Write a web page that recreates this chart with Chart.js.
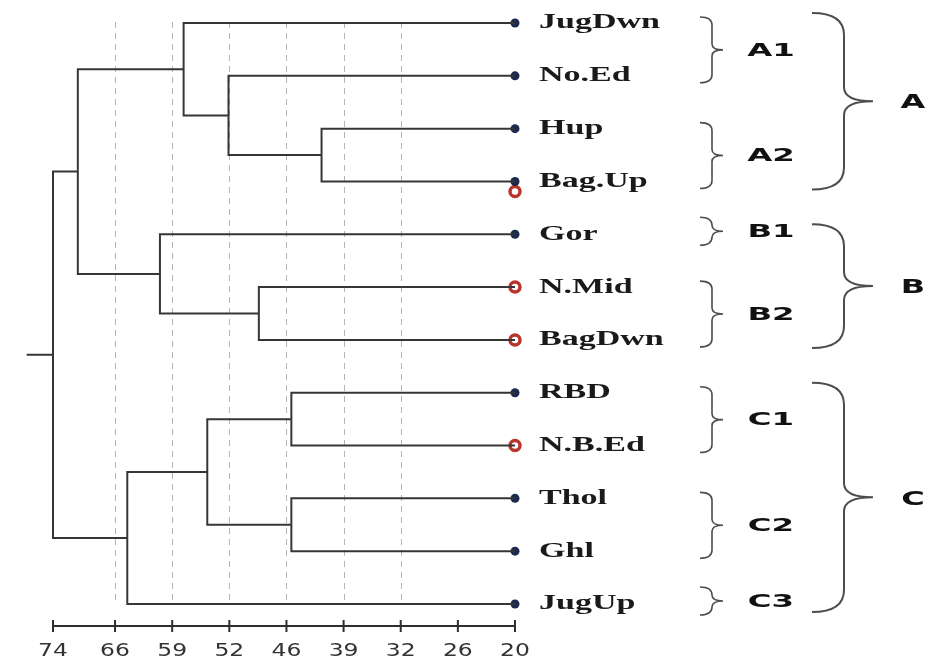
<!DOCTYPE html>
<html>
<head>
<meta charset="utf-8">
<script src="https://cdn.jsdelivr.net/npm/chart.js@4"></script>
<style>
  html, body { margin: 0; padding: 0; background: #fff; }
  canvas { display: block; }
</style>
</head>
<body>
<canvas id="dendro" width="927" height="661"></canvas>
<script>
const tickLabels = [74, 66, 59, 52, 46, 39, 32, 26, 20];
const gridTicks = [66, 59, 52, 46, 39, 32];
const leaves = ['JugDwn', 'No.Ed', 'Hup', 'Bag.Up', 'Gor', 'N.Mid', 'BagDwn', 'RBD', 'N.B.Ed', 'Thol', 'Ghl', 'JugUp'];
const leafLevel = 20;
// [left id, right id, level]; ids 0..11 = leaves, merge k gets id 12 + k
const merges = [
    [2, 3, 41.7],
    [1, 12, 52.1],
    [0, 13, 57.6],
    [5, 6, 48.9],
    [4, 15, 60.5],
    [14, 16, 70.8],
    [7, 8, 45.4],
    [9, 10, 45.4],
    [18, 19, 54.7],
    [20, 11, 64.5],
    [17, 21, 74]
];
const rootStub = 77.4;

const dotLeaves = ['JugDwn', 'No.Ed', 'Hup', 'Bag.Up', 'Gor', 'RBD', 'Thol', 'Ghl', 'JugUp'];
const ringLeaves = ['Bag.Up', 'N.Mid', 'BagDwn', 'N.B.Ed'];
const ringShift = [0.19, 0, 0, 0];

const subGroups = ['A1', 'A2', 'B1', 'B2', 'C1', 'C2', 'C3'];
const subFirst = [0, 2, 4, 5, 7, 9, 11];
const subLast = [1, 3, 4, 6, 8, 10, 11];
const mainGroups = ['A', 'B', 'C'];
const mainFirst = [0, 4, 7];
const mainLast = [3, 6, 11];

// the first interval (74-66) is drawn a bit wider than the others
const X_MIN = -0.086;
const tickIdx = tickLabels.map((_, i) => i === 0 ? X_MIN : i);

// similarity value -> position on the tick axis
function toIdx(v) {
    for (let i = 0; i < tickLabels.length - 1; i++) {
        const a = tickLabels[i], b = tickLabels[i + 1];
        if (v <= a && v >= b) return tickIdx[i] + (a - v) / (a - b) * (tickIdx[i + 1] - tickIdx[i]);
    }
    if (v > tickLabels[0]) {
        return X_MIN - (v - tickLabels[0]) / (tickLabels[0] - tickLabels[1]) * (tickIdx[1] - X_MIN);
    }
    return tickIdx[tickIdx.length - 1];
}

const nodeY = leaves.map((_, i) => i);
const nodeLevel = leaves.map(() => leafLevel);
merges.forEach(m => {
    nodeY.push((nodeY[m[0]] + nodeY[m[1]]) / 2);
    nodeLevel.push(m[2]);
});

const lineStyle = {
    showLine: true,
    borderColor: '#363636',
    borderWidth: 2,
    pointRadius: 0,
    tension: 0,
    clip: false
};

const datasets = merges.map(m => {
    const a = m[0], b = m[1], h = toIdx(m[2]);
    return Object.assign({
        data: [
            { x: toIdx(nodeLevel[a]), y: nodeY[a] },
            { x: h, y: nodeY[a] },
            { x: h, y: nodeY[b] },
            { x: toIdx(nodeLevel[b]), y: nodeY[b] }
        ]
    }, lineStyle);
});

const rootId = nodeY.length - 1;
datasets.push(Object.assign({
    data: [
        { x: toIdx(rootStub), y: nodeY[rootId] },
        { x: toIdx(nodeLevel[rootId]), y: nodeY[rootId] }
    ]
}, lineStyle));

datasets.push({
    data: dotLeaves.map(n => ({ x: toIdx(leafLevel), y: leaves.indexOf(n) })),
    showLine: false,
    pointRadius: 4.5,
    pointBackgroundColor: '#1b2a4e',
    pointBorderColor: '#1b2a4e',
    pointBorderWidth: 0,
    clip: false
});

datasets.push({
    data: ringLeaves.map((n, i) => ({ x: toIdx(leafLevel), y: leaves.indexOf(n) + ringShift[i] })),
    showLine: false,
    pointRadius: 5,
    pointBackgroundColor: '#ffffff',
    pointBorderColor: '#b8352c',
    pointBorderWidth: 3.5,
    clip: false
});

function stretchText(ctx, txt, x, y, sx, align) {
    ctx.save();
    ctx.translate(x, y);
    ctx.scale(sx, 1);
    ctx.textAlign = align;
    ctx.textBaseline = 'middle';
    ctx.fillText(txt, 0, 0);
    ctx.restore();
}

function drawBrace(ctx, xEnd, xMid, xTip, yTop, yBot, r, rt) {
    const yc = (yTop + yBot) / 2;
    ctx.beginPath();
    ctx.moveTo(xEnd, yTop);
    ctx.quadraticCurveTo(xMid, yTop, xMid, yTop + r);
    ctx.lineTo(xMid, yc - rt);
    ctx.quadraticCurveTo(xMid, yc, xTip, yc);
    ctx.quadraticCurveTo(xMid, yc, xMid, yc + rt);
    ctx.lineTo(xMid, yBot - r);
    ctx.quadraticCurveTo(xMid, yBot, xEnd, yBot);
    ctx.stroke();
    return yc;
}

const decor = {
    id: 'decor',
    beforeDatasetsDraw(chart) {
        const { ctx, chartArea, scales } = chart;
        ctx.save();
        ctx.strokeStyle = '#b5b5b5';
        ctx.lineWidth = 1;
        ctx.setLineDash([6, 5]);
        gridTicks.forEach(t => {
            const px = Math.round(scales.x.getPixelForValue(toIdx(t))) + 0.5;
            ctx.beginPath();
            ctx.moveTo(px, chartArea.top - 1);
            ctx.lineTo(px, chartArea.bottom + 1);
            ctx.stroke();
        });
        ctx.restore();
    },
    afterDatasetsDraw(chart) {
        const { ctx, chartArea, scales } = chart;
        const xs = scales.x, ys = scales.y;
        const axisY = chartArea.bottom + 22;
        const xL = xs.getPixelForValue(tickIdx[0]);
        const x8 = xs.getPixelForValue(tickIdx[tickIdx.length - 1]);

        ctx.save();
        // bottom axis
        ctx.strokeStyle = '#2e2e2e';
        ctx.lineWidth = 2;
        ctx.beginPath();
        ctx.moveTo(xL, axisY);
        ctx.lineTo(x8, axisY);
        ctx.stroke();
        ctx.fillStyle = '#333';
        ctx.font = '17px "DejaVu Sans"';
        tickLabels.forEach((t, i) => {
            const px = xs.getPixelForValue(tickIdx[i]);
            ctx.beginPath();
            ctx.moveTo(px, axisY - 6);
            ctx.lineTo(px, axisY + 6);
            ctx.stroke();
            stretchText(ctx, String(t), px, axisY + 26, 1.38, 'center');
        });

        // leaf labels
        ctx.fillStyle = '#1a1a1a';
        ctx.font = 'bold 21px "Liberation Serif"';
        leaves.forEach((n, i) => {
            stretchText(ctx, n, x8 + 24, ys.getPixelForValue(i), 1.62, 'left');
        });

        // small braces
        ctx.strokeStyle = '#4d4d4d';
        ctx.lineWidth = 1.6;
        ctx.fillStyle = '#111';
        subGroups.forEach((g, i) => {
            const single = subFirst[i] === subLast[i];
            const top = ys.getPixelForValue(subFirst[i]) - (single ? 17 : 6);
            const bot = ys.getPixelForValue(subLast[i]) + (single ? 11 : 7);
            const yc = drawBrace(ctx, x8 + 185, x8 + 197, x8 + 208, top, bot, 8, 6);
            ctx.font = 'bold 18px "DejaVu Sans"';
            stretchText(ctx, g, x8 + 256, yc + 1, 1.8, 'center');
        });

        // large braces
        ctx.lineWidth = 2;
        mainGroups.forEach((g, i) => {
            const top = ys.getPixelForValue(mainFirst[i]) - 10;
            const bot = ys.getPixelForValue(mainLast[i]) + 8;
            const yc = drawBrace(ctx, x8 + 297, x8 + 329, x8 + 358, top, bot, 22, 14);
            ctx.font = 'bold 20px "DejaVu Sans"';
            stretchText(ctx, g, x8 + 398, yc + 2, 1.6, 'center');
        });
        ctx.restore();
    }
};

new Chart(document.getElementById('dendro'), {
    type: 'scatter',
    data: { datasets: datasets },
    options: {
        responsive: false,
        animation: false,
        layout: { padding: { left: 53, right: 412, top: 23, bottom: 57 } },
        plugins: { legend: { display: false }, tooltip: { enabled: false } },
        scales: {
            x: { type: 'linear', min: X_MIN, max: 8, display: false },
            y: { type: 'linear', min: 0, max: 11, reverse: true, display: false }
        }
    },
    plugins: [decor]
});
</script>
</body>
</html>
